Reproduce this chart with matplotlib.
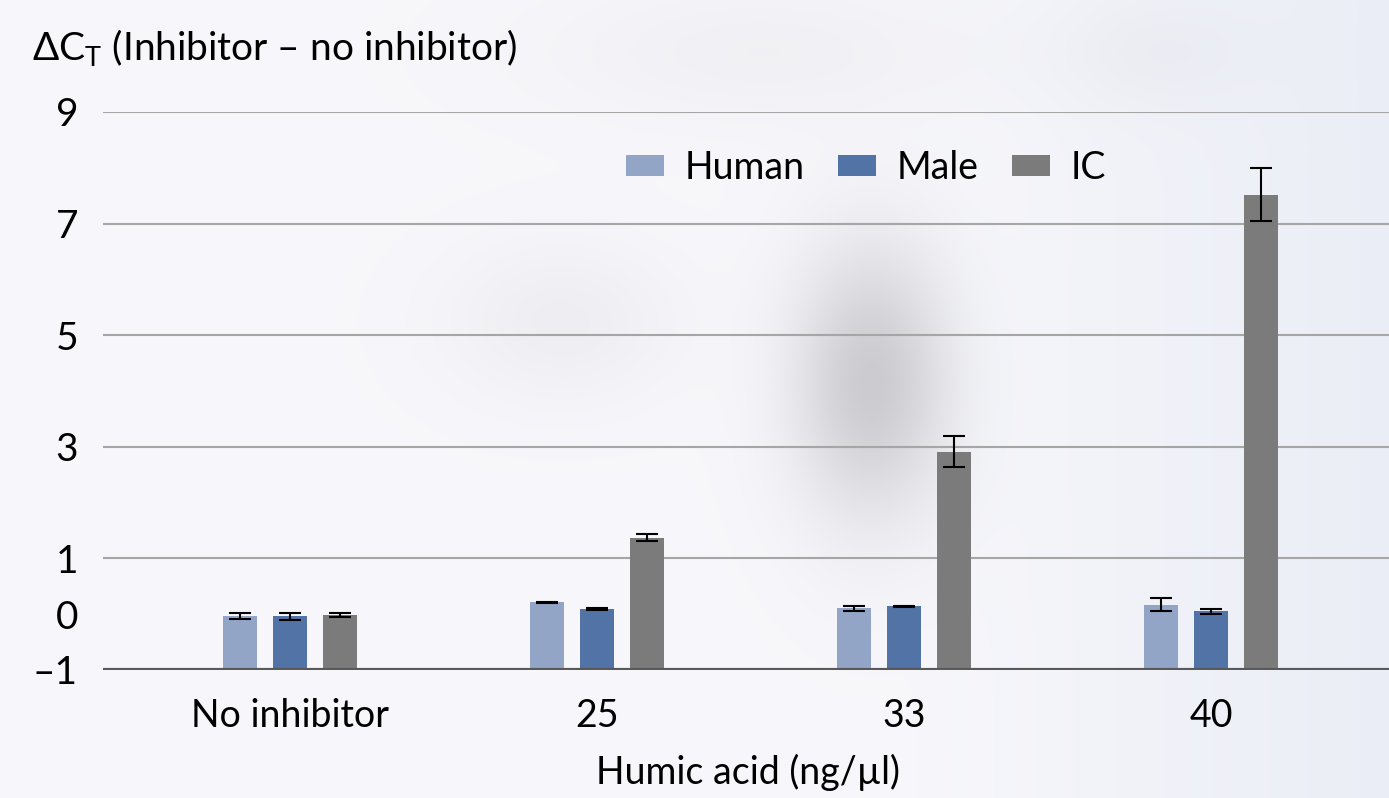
import numpy as np
import matplotlib
matplotlib.use('Agg')
import matplotlib.pyplot as plt
from matplotlib.ticker import FixedLocator, FixedFormatter

plt.rcParams['font.family'] = ['Lato', 'DejaVu Sans']
plt.rcParams['mathtext.fontset'] = 'custom'
plt.rcParams['mathtext.rm'] = 'Lato'

# data
groups = ['No inhibitor', '25', '33', '40']
series = ['Human', 'Male', 'IC']
human = [-0.03, 0.21, 0.11, 0.17]
human_err = [0.06, 0.01, 0.045, 0.12]
male = [-0.04, 0.09, 0.14, 0.05]
male_err = [0.07, 0.02, 0.01, 0.05]
ic = [-0.01, 1.37, 2.91, 7.52]
ic_err = [0.035, 0.065, 0.28, 0.48]
colors = ['#93a5c6', '#5173a6', '#7b7b7b']

y_ticks = [-1, 0, 1, 3, 5, 7, 9]
y_labels = ['–1', '0', '1', '3', '5', '7', '9']
grid_at = [1, 3, 5, 7, 9]

fig = plt.figure(figsize=(13.89, 7.98), dpi=100)

# soft blurred background like the slide it came from
h, w = 200, 350
yy, xx = np.mgrid[0:h, 0:w] / np.array([h, w])[:, None, None] * np.array([798, 1389])[:, None, None]
base = np.ones((h, w, 3)) * np.array([0.97, 0.97, 0.985])
tint = np.clip((xx - 900) / 500, 0, 1)[..., None] * np.array([-0.05, -0.04, -0.02])
img = base + tint
for cx, cy, sx, sy, amp in [(870, 380, 55, 95, 0.17), (760, 50, 150, 50, 0.025),
                            (560, 320, 80, 55, 0.035), (1150, 50, 70, 40, 0.02)]:
    g = np.exp(-(((xx - cx) / sx) ** 2 + ((yy - cy) / sy) ** 2) / 2)
    img = img - amp * g[..., None]
bg = fig.add_axes([0, 0, 1, 1], zorder=-1)
bg.imshow(np.clip(img, 0, 1), aspect='auto', interpolation='bicubic')
bg.axis('off')

ax = fig.add_axes([103 / 1389, 1 - 670 / 798, 1 - 103 / 1389, (670 - 112) / 798])
ax.patch.set_alpha(0)

x = np.arange(len(groups))
step = 50 / 307
width = 34 / 307
for i, (vals, errs) in enumerate([(human, human_err), (male, male_err), (ic, ic_err)]):
    vals = np.array(vals)
    ax.bar(x + (i - 1) * step, vals + 1, width, bottom=-1, color=colors[i], label=series[i], zorder=3)
    ax.errorbar(x + (i - 1) * step, vals, yerr=errs, fmt='none', ecolor='black',
                elinewidth=1.5, capsize=8, capthick=1.5, zorder=4)

for g in grid_at:
    ax.axhline(g, color='#a6a6a6', lw=1.5, zorder=1)
ax.axhline(-1, color='#595959', lw=3, zorder=5)

ax.set_ylim(-1, 9)
ax.set_xlim(-(290 - 103) / 307, (1389 - 290) / 307)
ax.yaxis.set_major_locator(FixedLocator(y_ticks))
ax.yaxis.set_major_formatter(FixedFormatter(y_labels))
ax.set_xticks(x)
ax.set_xticklabels(groups)
ax.tick_params(axis='y', length=0, pad=18, labelsize=28)
ax.tick_params(axis='x', length=0, pad=20, labelsize=27)
for s in ax.spines.values():
    s.set_visible(False)

fig.text(32 / 1389, 1 - 48 / 798, 'ΔC$_{\\mathrm{T}}$ (Inhibitor – no inhibitor)',
         fontsize=28, va='center', ha='left')
fig.text(748 / 1389, 1 - 772 / 798, 'Humic acid (ng/µl)', fontsize=27, va='center', ha='center')

fig.legend(loc='center', bbox_to_anchor=(866 / 1389, 1 - 168 / 798), ncol=3, frameon=False,
           fontsize=27, handlelength=1.0, handleheight=0.5, handletextpad=0.55, columnspacing=0.9)

fig.savefig('out.png', dpi=100)
